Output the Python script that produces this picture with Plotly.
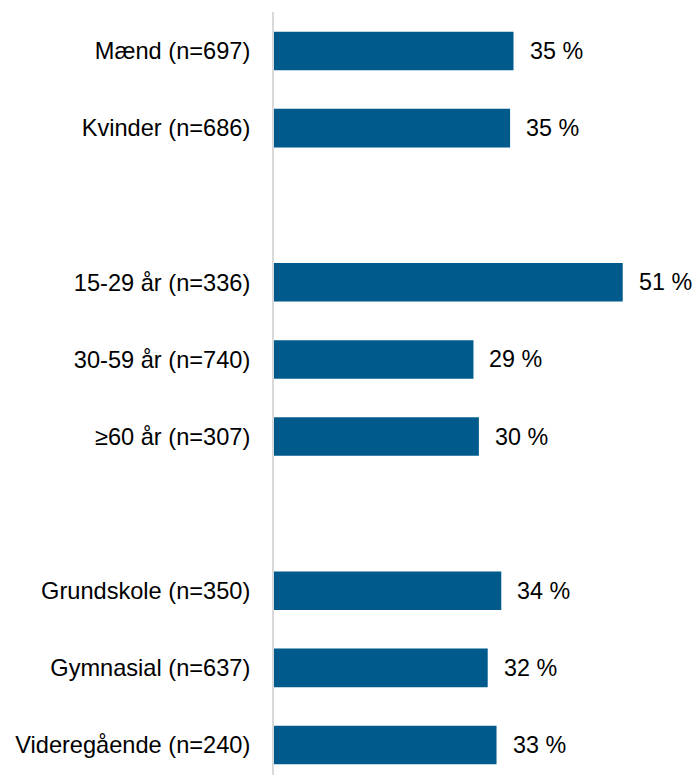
import plotly.graph_objects as go

categories = ["Mænd (n=697)", "Kvinder (n=686)",
              "15-29 år (n=336)", "30-59 år (n=740)", "≥60 år (n=307)",
              "Grundskole (n=350)", "Gymnasial (n=637)", "Videregående (n=240)"]
positions = [0, 1, 3, 4, 5, 7, 8, 9]
values = [35.3, 34.8, 51.4, 29.4, 30.2, 33.5, 31.5, 32.8]
value_labels = ["35 %", "35 %", "51 %", "29 %", "30 %", "34 %", "32 %", "33 %"]

BAR_COLOR = "#005B8C"
FONT = "Liberation Sans, Arial, sans-serif"

fig = go.Figure()
fig.add_trace(go.Bar(
    x=values, y=positions, orientation="h",
    marker=dict(color=BAR_COLOR, line=dict(width=0)),
    width=0.5, hoverinfo="skip",
))

for v, p, t in zip(values, positions, value_labels):
    fig.add_annotation(x=v, y=p, text=t, showarrow=False, xanchor="left",
                       yanchor="middle", xshift=14,
                       font=dict(family=FONT, size=23.3, color="#000000"))

fig.update_layout(
    width=696, height=775,
    margin=dict(l=274, r=0, t=12, b=0),
    paper_bgcolor="white", plot_bgcolor="white",
    showlegend=False,
    font=dict(family=FONT, size=23.5, color="#000000"),
    xaxis=dict(range=[0, 62.2], visible=False, fixedrange=True),
    yaxis=dict(range=[9.389, -0.506], tickmode="array", tickvals=positions,
               ticktext=categories, showgrid=False, zeroline=False,
               showline=True, linecolor="#D9D9D9", linewidth=2,
               ticks="", ticklabelstandoff=17,
               tickfont=dict(family=FONT, size=23.6, color="#000000")),
)

fig.write_html("out.html")
